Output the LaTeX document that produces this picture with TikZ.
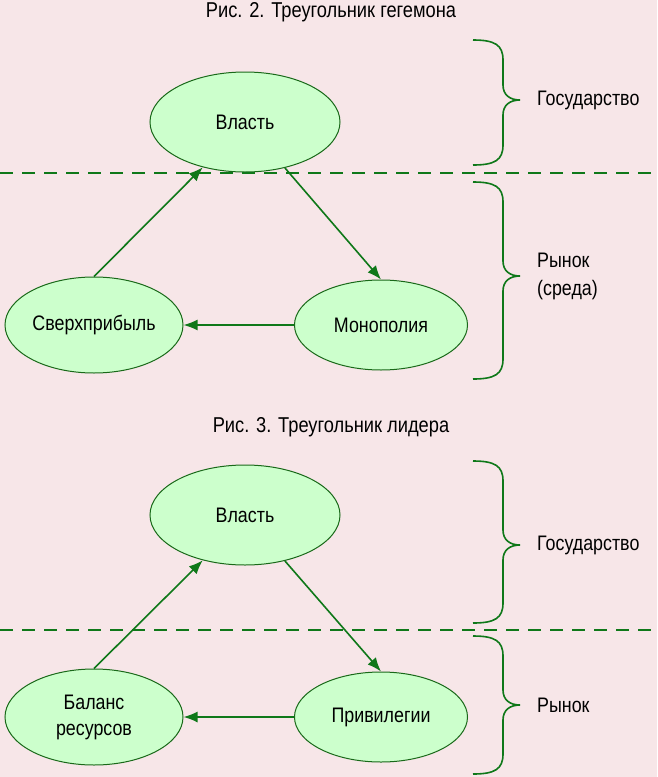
\documentclass[tikz,border=0pt]{standalone}
\usepackage{fontspec}
\setmainfont[FakeStretch=0.85]{Liberation Sans}
\usetikzlibrary{shapes.geometric,arrows.meta}
\definecolor{bg}{RGB}{247,230,232}
\definecolor{efill}{RGB}{204,255,204}
\definecolor{edraw}{RGB}{25,105,25}
\definecolor{lgreen}{RGB}{15,120,25}
\newcommand\bracedraw[3]{\draw[brace] (473,#1) .. controls (495,#1) and (503,#1+5) .. (503,#1+20) -- (503,#2-15) .. controls (503,#2-5) and (510,#2) .. (520,#2) .. controls (510,#2) and (503,#2+5) .. (503,#2+15) -- (503,#3-20) .. controls (503,#3-5) and (495,#3) .. (473,#3);}
\begin{document}
\begin{tikzpicture}[x=1pt,y=-1pt,
  ell/.style={ellipse,draw=edraw,fill=efill,line width=1pt,inner sep=0pt,font=\fontsize{21}{26}\selectfont,align=center},
  conn/.style={draw=lgreen,line width=1.6pt,-{Latex[length=14pt,width=11pt]}},
  sep/.style={draw=lgreen,line width=1.8pt,dash pattern=on 13pt off 9pt},
  brace/.style={draw=lgreen,line width=1.6pt},
  lab/.style={anchor=west,inner sep=0pt,font=\fontsize{21}{28}\selectfont,align=left},
  ttl/.style={inner sep=0pt,font=\fontsize{21.5}{24}\selectfont}]
\fill[bg] (0,0) rectangle (657,777);
\useasboundingbox (0,0) rectangle (657,777);
% ---- Figure 2
\node[ttl] (t1) at (331,12) {Рис. 2. Треугольник гегемона};
\node[ell,minimum width=190pt,minimum height=100pt] (v1) at (245,122) {Власть};
\node[ell,minimum width=178pt,minimum height=96pt] (s1) at (94,325) {Сверхприбыль};
\node[ell,minimum width=173pt,minimum height=90pt] (m1) at (381,325) {Монополия};
\coordinate (d1a) at (0,173);
\coordinate (d1b) at (657,173);
\draw[sep] (d1a) -- (d1b);
\draw[conn] (s1.north) -- (v1.227);
\draw[conn] (v1.311) -- (m1.north);
\draw[conn] (m1.west) -- (s1.east);
\bracedraw{40}{100}{165}
\bracedraw{182}{276}{379}
\node[lab] (g1) at (537,100) {Государство};
\node[lab] (r1) at (537,276) {Рынок\\(среда)};
% ---- Figure 3
\node[ttl] (t2) at (331,427) {Рис. 3. Треугольник лидера};
\node[ell,minimum width=190pt,minimum height=100pt] (v2) at (245,515) {Власть};
\node[ell,minimum width=178pt,minimum height=96pt] (s2) at (94,717) {Баланс\\ресурсов};
\node[ell,minimum width=173pt,minimum height=90pt] (m2) at (381,717) {Привилегии};
\coordinate (d2a) at (0,630);
\coordinate (d2b) at (657,630);
\draw[sep] (d2a) -- (d2b);
\draw[conn] (s2.north) -- (v2.227);
\draw[conn] (v2.311) -- (m2.north);
\draw[conn] (m2.west) -- (s2.east);
\bracedraw{461}{545}{623}
\bracedraw{636}{705}{774}
\node[lab] (g2) at (537,545) {Государство};
\node[lab] (r2) at (537,705) {Рынок};
\end{tikzpicture}
\end{document}
